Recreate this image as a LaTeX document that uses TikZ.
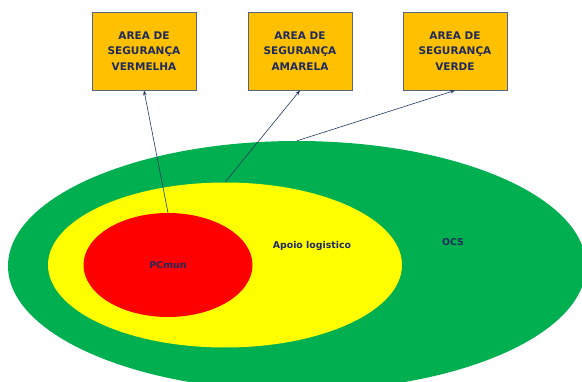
\documentclass[tikz,border=0pt]{standalone}
\usepackage{fontspec}
\setmainfont{DejaVu Sans}
\usetikzlibrary{shapes.geometric,arrows.meta}
\definecolor{gfill}{HTML}{00B050}
\definecolor{yfill}{HTML}{FFFF00}
\definecolor{rfill}{HTML}{FF0000}
\definecolor{bfill}{HTML}{FFC000}
\definecolor{bline}{HTML}{5A6680}
\definecolor{ink}{HTML}{1F2A5C}
\definecolor{arr}{HTML}{1F3864}
\tikzset{
  zone/.style={ellipse, inner sep=0pt, draw=none},
  areabox/.style={rectangle, fill=bfill, draw=bline, line width=0.8pt, minimum width=104pt, minimum height=78pt, inner sep=0pt, align=center, font=\bfseries\fontsize{10.5}{15.5}\selectfont, text=ink},
  lbl/.style={font=\bfseries\fontsize{9.4}{12}\selectfont, text=ink},
  link/.style={draw=arr, line width=0.6pt, -{Stealth[length=5pt,width=3.5pt]}}
}
\begin{document}
\begin{tikzpicture}[x=1pt,y=-1pt]
\useasboundingbox (0,0) rectangle (582,382);
\begin{scope}
\clip (0,0) rectangle (582,382);
\node[zone, fill=gfill, minimum width=578pt, minimum height=250pt] (green) at (297,266) {};
\node[zone, fill=yfill, minimum width=354pt, minimum height=165pt] (yellow) at (225,265) {};
\node[zone, fill=rfill, minimum width=169pt, minimum height=104pt] (red) at (168,265) {};
\end{scope}
\node[lbl] (pc) at (168,265) {PCmun};
\node[lbl] (apoio) at (312,246) {Apoio logistico};
\node[lbl] (ocs) at (453,242) {OCS};
\node[areabox] (b1) at (144,51) {AREA DE\\SEGURANÇA\\VERMELHA};
\node[areabox] (b2) at (300,51) {AREA DE\\SEGURANÇA\\AMARELA};
\node[areabox] (b3) at (455,51) {AREA DE\\SEGURANÇA\\VERDE};
\draw[link] (red.north) -- (b1.south);
\draw[link] (yellow.north) -- (b2.south);
\draw[link] (green.north) -- (b3.south);
\end{tikzpicture}
\end{document}
